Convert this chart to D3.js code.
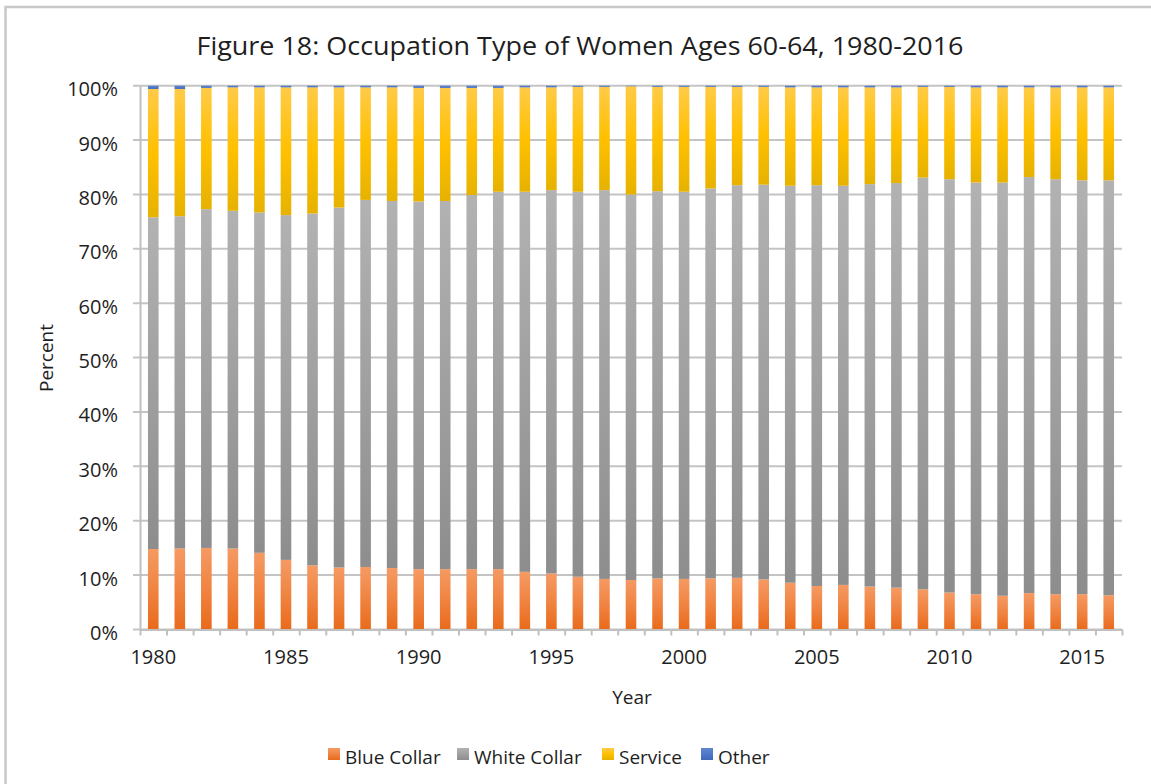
<!DOCTYPE html>
<html>
<head>
<meta charset="utf-8">
<script src="https://cdn.jsdelivr.net/npm/d3@7"></script>
<style>
  body { margin: 0; background: #fff; }
  svg text { font-family: "Open Sans", sans-serif; fill: #1e1e1e; }
</style>
</head>
<body>
<div id="wrapper"></div>
<script>
// values (percent of women 60-64)
const years = [1980, 1981, 1982, 1983, 1984, 1985, 1986, 1987, 1988, 1989,
               1990, 1991, 1992, 1993, 1994, 1995, 1996, 1997, 1998, 1999,
               2000, 2001, 2002, 2003, 2004, 2005, 2006, 2007, 2008, 2009,
               2010, 2011, 2012, 2013, 2014, 2015, 2016]
const blueCollar = [14.8, 14.9, 15.0, 14.9, 14.1, 12.8, 11.8, 11.4, 11.5, 11.3,
                    11.1, 11.1, 11.1, 11.1, 10.6, 10.3, 9.7, 9.3, 9.1, 9.4,
                    9.3, 9.4, 9.5, 9.2, 8.6, 8.0, 8.2, 7.9, 7.7, 7.4,
                    6.8, 6.5, 6.2, 6.7, 6.5, 6.5, 6.3]
const whiteCollar = [61.0, 61.1, 62.3, 62.1, 62.6, 63.4, 64.7, 66.2, 67.5, 67.5,
                     67.6, 67.7, 68.8, 69.4, 69.9, 70.5, 70.8, 71.5, 70.9, 71.2,
                     71.2, 71.7, 72.2, 72.6, 73.0, 73.7, 73.4, 74.0, 74.4, 75.7,
                     76.0, 75.7, 76.0, 76.5, 76.3, 76.1, 76.3]
const service = [23.6, 23.4, 22.3, 22.7, 23.0, 23.5, 23.2, 22.1, 20.7, 20.9,
                 20.9, 20.8, 19.7, 19.1, 19.2, 18.9, 19.3, 19.0, 19.9, 19.2,
                 19.3, 18.7, 18.1, 18.0, 18.1, 18.0, 18.1, 17.8, 17.6, 16.7,
                 17.0, 17.5, 17.5, 16.5, 16.9, 17.1, 17.1]
const other = [0.6, 0.6, 0.4, 0.3, 0.3, 0.3, 0.3, 0.3, 0.3, 0.3,
               0.4, 0.4, 0.4, 0.4, 0.3, 0.3, 0.2, 0.2, 0.1, 0.2,
               0.2, 0.2, 0.2, 0.2, 0.3, 0.3, 0.3, 0.3, 0.3, 0.2,
               0.2, 0.3, 0.3, 0.3, 0.3, 0.3, 0.3]

const seriesNames = ["Blue Collar", "White Collar", "Service", "Other"]
const yTicks = [0, 0.1, 0.2, 0.3, 0.4, 0.5, 0.6, 0.7, 0.8, 0.9, 1]
const yearLabels = [1980, 1985, 1990, 1995, 2000, 2005, 2010, 2015]

function drawChart() {

    // 1. build rows
    const dataset = years.map((y, i) => ({
        year: y,
        "Blue Collar": blueCollar[i],
        "White Collar": whiteCollar[i],
        "Service": service[i],
        "Other": other[i],
    }))

    // 2. dimensions
    let dimensions = {
        width: 1151,
        height: 784,
        margin: {
            top: 85.7,
            right: 29,
            bottom: 154.5,
            left: 140,
        },
    }
    dimensions.boundedWidth = dimensions.width - dimensions.margin.left - dimensions.margin.right
    dimensions.boundedHeight = dimensions.height - dimensions.margin.top - dimensions.margin.bottom

    const wrapper = d3.select("#wrapper")
        .append("svg")
        .attr("width", dimensions.width)
        .attr("height", dimensions.height)

    // chart frame (only top/left edges visible)
    wrapper.append("rect")
        .attr("x", 5.5)
        .attr("y", 7)
        .attr("width", 1200)
        .attr("height", 850)
        .attr("fill", "#fff")
        .attr("stroke", "#c8c8c8")
        .attr("stroke-width", 2.5)

    // gradients like the excel bars
    const defs = wrapper.append("defs")
    const gradients = {
        "Blue Collar": ["#f59a63", "#f08442", "#e96a1b"],
        "White Collar": ["#b2b2b2", "#a0a0a0", "#8d8d8d"],
        "Service": ["#ffcb48", "#ffc000", "#e6b200"],
        "Other": ["#6287cf", "#4f79c8", "#3f69b8"],
    }
    const gradId = name => "grad-" + name.replace(/\s/g, "")
    seriesNames.forEach(name => {
        const g = defs.append("linearGradient")
            .attr("id", gradId(name))
            .attr("x1", 0).attr("y1", 0)
            .attr("x2", 0).attr("y2", 1)
        g.selectAll("stop")
            .data(gradients[name])
            .enter().append("stop")
            .attr("offset", (d, i) => i / 2)
            .attr("stop-color", d => d)
    })

    const bounds = wrapper.append("g")
        .style("transform", `translate(${dimensions.margin.left}px, ${dimensions.margin.top}px)`)

    // 3. scales
    const xScale = d3.scaleBand()
        .domain(years)
        .range([0, dimensions.boundedWidth])
        .paddingInner(0.6)
        .paddingOuter(0.3)

    const boundaryScale = d3.scaleLinear()
        .domain([years[0] - 0.5, years[years.length - 1] + 0.5])
        .range([0, dimensions.boundedWidth])

    const yScale = d3.scaleLinear()
        .domain([0, 1])
        .range([dimensions.boundedHeight, 0])

    // 4. gridlines
    bounds.append("g")
        .selectAll("line")
        .data(yTicks)
        .enter().append("line")
        .attr("x1", -7)
        .attr("x2", dimensions.boundedWidth)
        .attr("y1", d => yScale(d))
        .attr("y2", d => yScale(d))
        .attr("stroke", "#c4c4c4")
        .attr("stroke-width", 2)

    // 5. stacked bars
    const stack = d3.stack()
        .keys(seriesNames)
        .offset(d3.stackOffsetExpand)
    const series = stack(dataset)

    bounds.append("g")
        .selectAll("g")
        .data(series)
        .enter().append("g")
        .attr("fill", d => `url(#${gradId(d.key)})`)
        .selectAll("rect")
        .data(d => d)
        .enter().append("rect")
        .attr("x", d => xScale(d.data.year))
        .attr("width", xScale.bandwidth())
        .attr("y", d => yScale(d[1]))
        .attr("height", d => yScale(d[0]) - yScale(d[1]))

    // 6. axes
    const yAxis = bounds.append("g")
        .call(d3.axisLeft(yScale)
            .tickValues(yTicks)
            .tickFormat(d3.format(".0%"))
            .tickSize(0)
            .tickPadding(22))
    yAxis.select(".domain").attr("stroke", "#c0c0c0").attr("stroke-width", 2)
    yAxis.selectAll("text")
        .attr("dy", "0.5em")
        .style("font-size", "20px")

    const xTicks = bounds.append("g")
        .style("transform", `translateY(${dimensions.boundedHeight}px)`)
        .call(d3.axisBottom(boundaryScale)
            .tickValues(d3.range(years.length + 1).map(i => years[0] - 0.5 + i))
            .tickFormat("")
            .tickSize(6)
            .tickSizeOuter(0))
    xTicks.select(".domain").attr("stroke", "#c0c0c0").attr("stroke-width", 2)
    xTicks.selectAll(".tick line").attr("stroke", "#c0c0c0").attr("stroke-width", 2)

    const xAxis = bounds.append("g")
        .style("transform", `translateY(${dimensions.boundedHeight}px)`)
        .call(d3.axisBottom(xScale)
            .tickValues(yearLabels)
            .tickSize(0)
            .tickPadding(20))
    xAxis.select(".domain").remove()
    xAxis.selectAll("text").style("font-size", "20px")

    // 7. labels
    wrapper.append("text")
        .attr("x", 580)
        .attr("y", 55)
        .attr("text-anchor", "middle")
        .attr("textLength", 767)
        .attr("lengthAdjust", "spacingAndGlyphs")
        .style("font-size", "25px")
        .text("Figure 18: Occupation Type of Women Ages 60-64, 1980-2016")

    wrapper.append("text")
        .attr("x", 632)
        .attr("y", 704)
        .attr("text-anchor", "middle")
        .style("font-size", "19px")
        .text("Year")

    wrapper.append("text")
        .attr("transform", "translate(53, 358) rotate(-90)")
        .attr("text-anchor", "middle")
        .style("font-size", "19px")
        .text("Percent")

    // 8. legend
    const legendX = [328, 457, 602, 701]
    const legend = wrapper.append("g")
        .selectAll("g")
        .data(seriesNames)
        .enter().append("g")
        .attr("transform", (d, i) => `translate(${legendX[i]}, 748)`)
    legend.append("rect")
        .attr("width", 12)
        .attr("height", 12)
        .attr("fill", d => `url(#${gradId(d)})`)
    legend.append("text")
        .attr("x", 17)
        .attr("y", 16)
        .style("font-size", "19px")
        .text(d => d)
}

drawChart()
</script>
</body>
</html>
